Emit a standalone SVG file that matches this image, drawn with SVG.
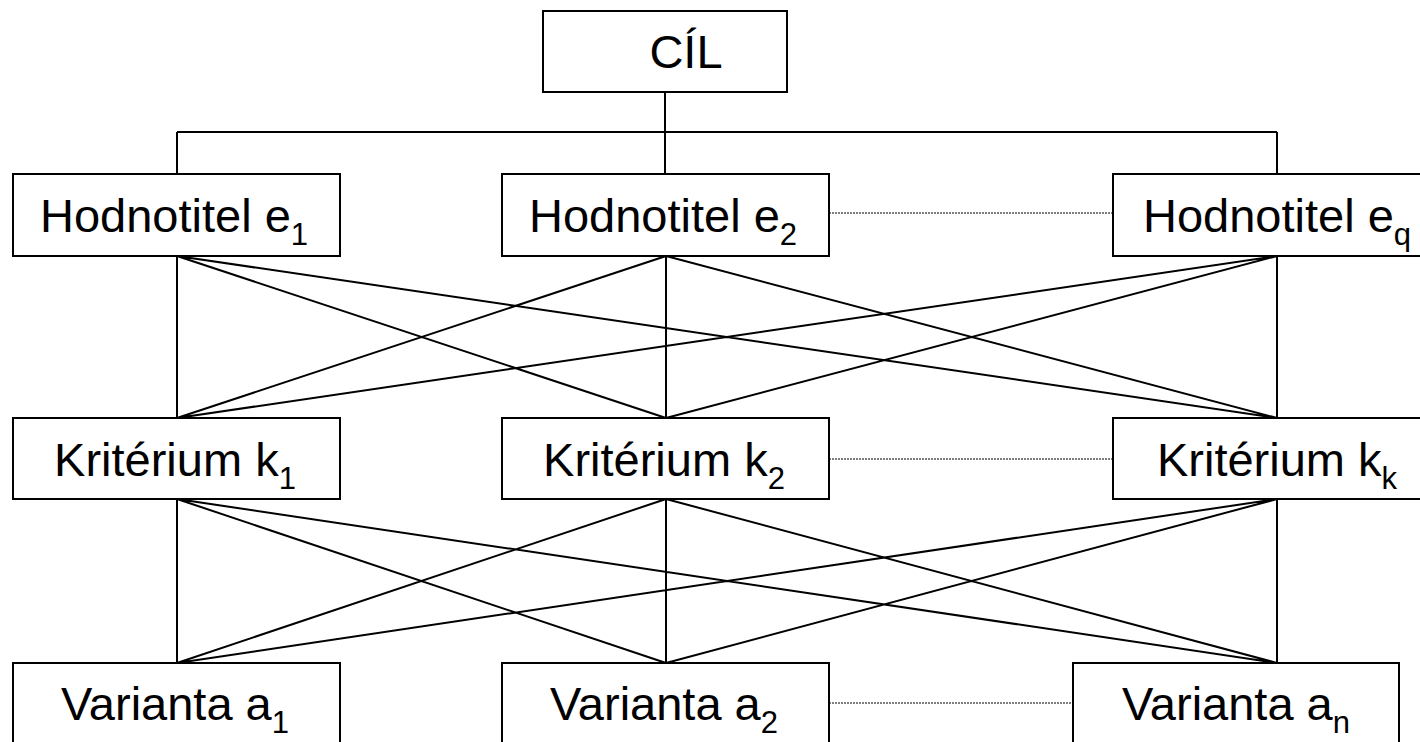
<svg xmlns="http://www.w3.org/2000/svg" width="1420" height="742" viewBox="0 0 1420 742">
<style>
.box{fill:#fff;stroke:#000;stroke-width:2}
.ln{stroke:#000;stroke-width:2;fill:none}
.dot{stroke:#000;stroke-width:1;stroke-dasharray:2 1;fill:none}
.t{font-family:"Liberation Sans",Arial,sans-serif;font-size:47px;fill:#000;text-anchor:middle}
.s{font-size:31px}
</style>
<rect width="1420" height="742" fill="#fff"/>
<g id="connectors">
<path class="ln" d="M665 92V132M177 132H1277M177 132V174M665 132V174M1277 132V174"/>
<path class="ln" d="M177 256L177 418M177 256L666 418M177 256L1277 418M666 256L177 418M666 256L666 418M666 256L1277 418M1277 256L177 418M1277 256L666 418M1277 256L1277 418"/>
<path class="ln" d="M177 499L177 663M177 499L666 663M177 499L1277 663M666 499L177 663M666 499L666 663M666 499L1277 663M1277 499L177 663M1277 499L666 663M1277 499L1277 663"/>
<path class="dot" d="M829 213H1113M829 459H1113M829 703H1073"/>
</g>
<g id="cil"><rect class="box" x="543" y="11" width="244" height="81"/><text class="t" x="686" y="68">CÍL</text></g>
<g id="e1"><rect class="box" x="13" y="174" width="327" height="82"/><text class="t" x="174" y="232">Hodnotitel e<tspan class="s" dy="13">1</tspan></text></g>
<g id="e2"><rect class="box" x="502" y="174" width="327" height="82"/><text class="t" x="663" y="232">Hodnotitel e<tspan class="s" dy="13">2</tspan></text></g>
<g id="eq"><rect class="box" x="1113" y="174" width="327" height="82"/><text class="t" x="1277" y="232">Hodnotitel e<tspan class="s" dy="13">q</tspan></text></g>
<g id="k1"><rect class="box" x="13" y="418" width="327" height="81"/><text class="t" x="175" y="476">Kritérium k<tspan class="s" dy="13">1</tspan></text></g>
<g id="k2"><rect class="box" x="502" y="418" width="327" height="81"/><text class="t" x="664" y="476">Kritérium k<tspan class="s" dy="13">2</tspan></text></g>
<g id="kk"><rect class="box" x="1113" y="418" width="327" height="81"/><text class="t" x="1277" y="476">Kritérium k<tspan class="s" dy="13">k</tspan></text></g>
<g id="a1"><rect class="box" x="13" y="663" width="327" height="90"/><text class="t" x="175" y="720">Varianta a<tspan class="s" dy="13">1</tspan></text></g>
<g id="a2"><rect class="box" x="502" y="663" width="327" height="90"/><text class="t" x="664" y="720">Varianta a<tspan class="s" dy="13">2</tspan></text></g>
<g id="an"><rect class="box" x="1073" y="663" width="326" height="90"/><text class="t" x="1236" y="720">Varianta a<tspan class="s" dy="13">n</tspan></text></g>
</svg>
